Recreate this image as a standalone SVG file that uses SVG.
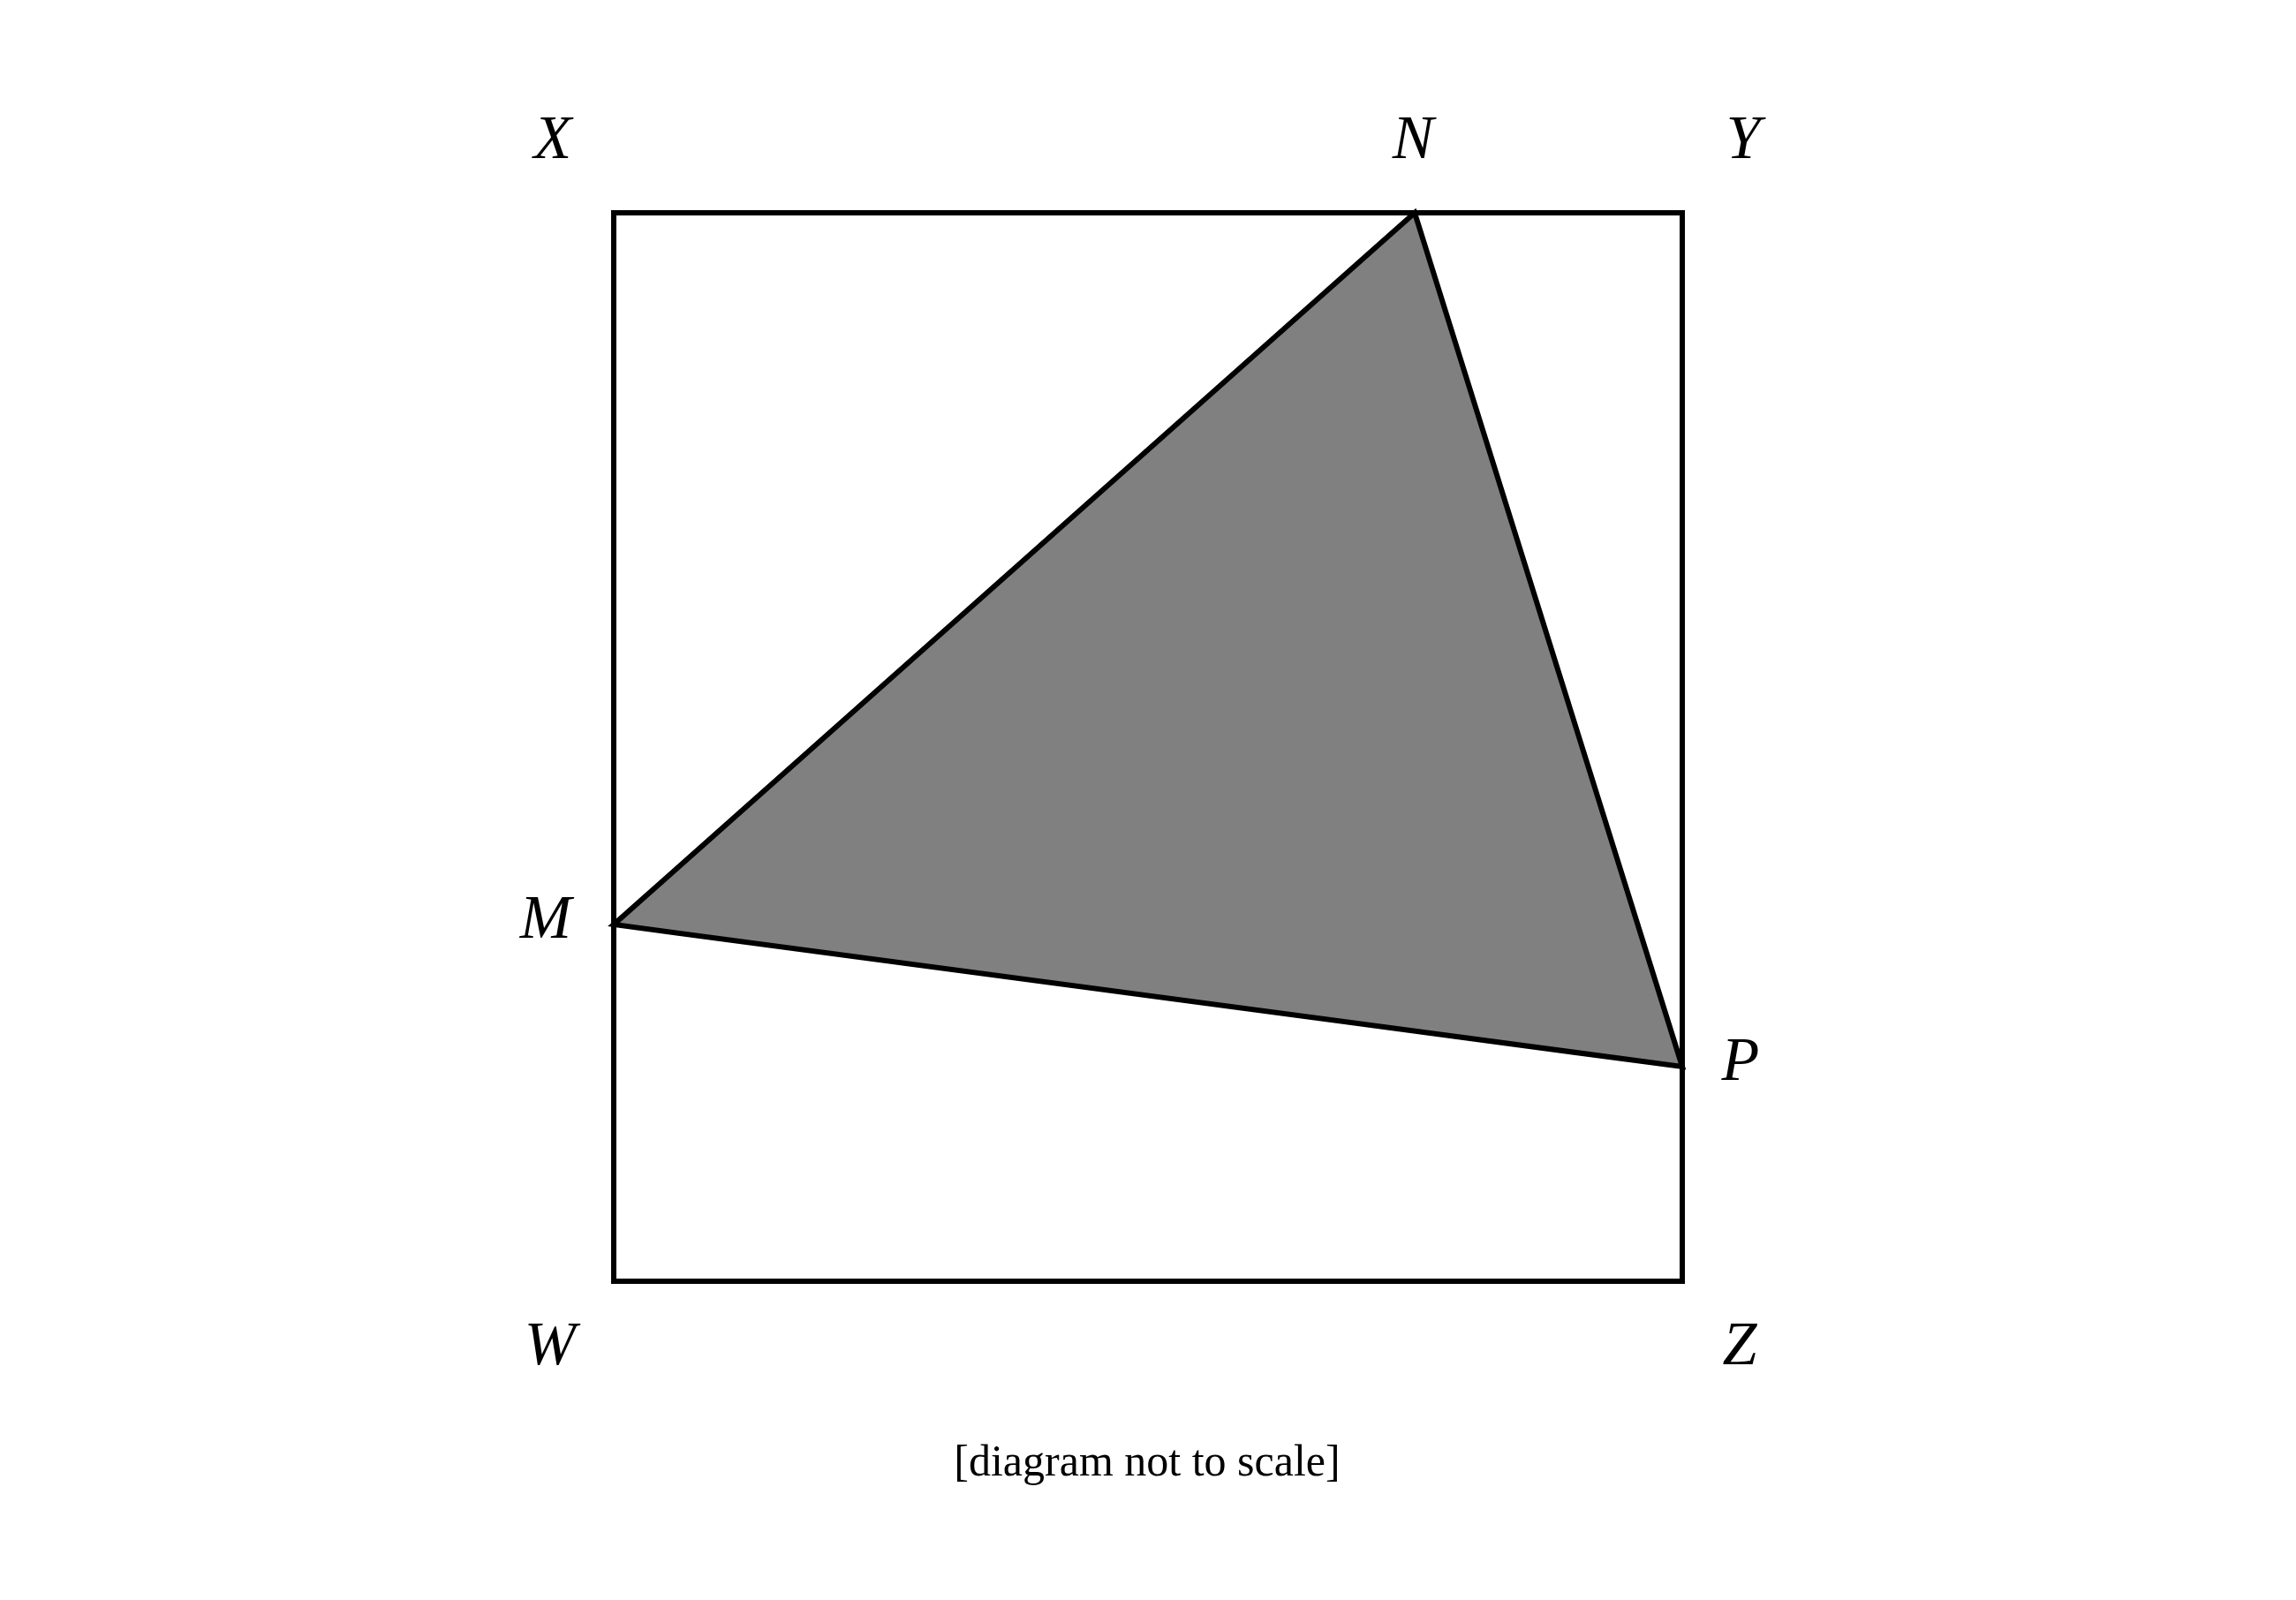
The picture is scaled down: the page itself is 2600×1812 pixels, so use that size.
<svg xmlns="http://www.w3.org/2000/svg" width="2600" height="1812" viewBox="0 0 2600 1812">
<style>
.lbl{font-family:"Liberation Serif","Times New Roman",serif;font-style:italic;font-size:70px;fill:#000;text-anchor:middle}
.cap{font-family:"Liberation Serif","Times New Roman",serif;font-size:50px;fill:#000;text-anchor:middle}
.edge{fill:none;stroke:#000;stroke-width:6;stroke-linejoin:miter}
</style>
<rect width="2600" height="1812" fill="#fff"/>
<g id="square">
<rect class="edge" x="695" y="241" width="1210" height="1210"/>
</g>
<g id="triangle">
<polygon points="695,1047 1602,241 1905,1208" fill="#808080" stroke="#000" stroke-width="6" stroke-linejoin="miter"/>
</g>
<g id="labels">
<text class="lbl" x="626" y="179">X</text>
<text class="lbl" x="1600" y="179">N</text>
<text class="lbl" x="1974" y="179">Y</text>
<text class="lbl" x="618" y="1062">M</text>
<text class="lbl" x="1971" y="1223">P</text>
<text class="lbl" x="623" y="1545">W</text>
<text class="lbl" x="1970" y="1545">Z</text>
</g>
<g id="caption">
<text class="cap" x="1299" y="1671">[diagram not to scale]</text>
</g>
</svg>
